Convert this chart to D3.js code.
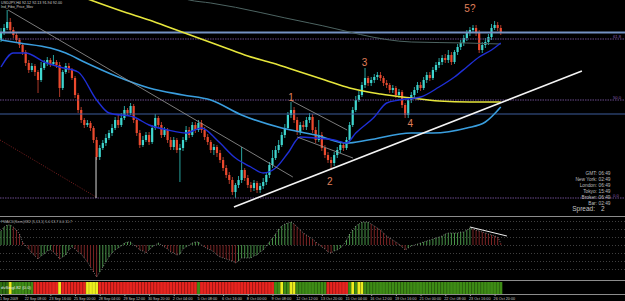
<!DOCTYPE html>
<html>
<head>
<meta charset="utf-8">
<script src="https://cdn.jsdelivr.net/npm/d3@7"></script>
<style>
  body { margin: 0; background: #000; }
  svg { display: block; font-family: "Liberation Sans", Arial, sans-serif; }
</style>
</head>
<body>
<svg id="chart" width="625" height="301"></svg>
<script>
// ---- data (USDJPY H4) ----
const firstOpen = 91.80;
const closes = [
  91.94, 92.04, 92.16, 92.00, 91.90, 91.80, 91.70, 91.56, 91.34, 91.20,
  91.28, 91.16, 91.00, 91.24, 91.34, 91.40, 91.32, 91.36, 91.30, 90.84,
  91.16, 91.28, 91.20, 91.04, 90.70, 90.40, 90.20, 90.10, 90.14, 90.04,
  89.80, 89.46, 89.64, 89.74, 89.84, 89.94, 90.04, 90.20, 90.10, 90.24,
  90.40, 90.34, 90.48, 90.20, 89.94, 89.70, 89.80, 89.90, 89.76, 90.04,
  90.24, 90.10, 89.90, 90.00, 89.80, 89.66, 89.80, 89.60, 89.64, 89.80,
  90.00, 89.90, 90.10, 90.00, 90.14, 90.00, 89.86, 89.76, 89.60, 89.66,
  89.54, 89.40, 89.24, 89.10, 89.00, 88.76, 88.90, 89.00, 89.20, 89.04,
  88.90, 88.84, 88.94, 88.80, 88.88, 88.96, 89.10, 89.30, 89.44, 89.60,
  89.70, 89.90, 90.04, 90.30, 90.40, 90.20, 89.96, 90.10, 90.06, 90.20,
  90.26, 90.00, 89.80, 89.90, 89.64, 89.50, 89.40, 89.34, 89.50, 89.60,
  89.70, 89.64, 89.80, 90.10, 90.40, 90.60, 90.70, 90.90, 91.04, 90.94,
  91.00, 91.06, 91.10, 91.04, 90.94, 90.90, 90.80, 90.84, 90.70, 90.76,
  90.50, 90.30, 90.60, 90.70, 90.80, 90.90, 90.84, 91.00, 91.10, 91.04,
  91.20, 91.30, 91.36, 91.44, 91.40, 91.50, 91.36, 91.56, 91.66, 91.74,
  91.84, 91.94, 92.00, 92.04, 91.94, 91.60, 91.70, 91.76, 91.86, 92.04,
  92.10, 92.04, 91.94
];
const highs = [
  92.04, 92.12, 92.40, 92.24, 92.06, 91.96, 91.84, 91.74, 91.60, 91.40,
  91.34, 91.32, 91.20, 91.36, 91.40, 91.46, 91.44, 91.50, 91.40, 91.36,
  91.20, 91.34, 91.34, 91.24, 91.08, 90.74, 90.46, 90.24, 90.20, 90.18,
  90.08, 89.86, 89.70, 89.80, 89.92, 90.00, 90.12, 90.26, 90.30, 90.34,
  90.48, 90.44, 90.54, 90.52, 90.24, 90.00, 89.88, 89.96, 89.96, 90.10,
  90.32, 90.28, 90.16, 90.06, 90.04, 89.86, 89.86, 89.84, 89.72, 89.86,
  90.08, 90.06, 90.16, 90.16, 90.20, 90.20, 90.06, 89.92, 89.80, 89.72,
  89.70, 89.60, 89.46, 89.30, 89.16, 89.06, 88.94, 89.08, 89.66, 89.24,
  89.10, 88.96, 89.00, 88.98, 88.94, 89.04, 89.16, 89.36, 89.60, 89.68,
  89.80, 89.96, 90.12, 90.36, 90.56, 90.46, 90.26, 90.16, 90.18, 90.26,
  90.34, 90.32, 90.06, 90.20, 89.96, 89.70, 89.56, 89.46, 89.56, 89.66,
  89.78, 89.76, 89.86, 90.16, 90.46, 90.68, 90.78, 90.96, 91.24, 91.08,
  91.06, 91.12, 91.16, 91.16, 91.08, 91.00, 90.94, 90.90, 90.88, 90.82,
  90.80, 90.54, 90.64, 90.76, 90.86, 90.96, 90.96, 91.06, 91.16, 91.16,
  91.26, 91.36, 91.44, 91.50, 91.52, 91.60, 91.56, 91.60, 91.72, 91.80,
  91.90, 92.00, 92.06, 92.10, 92.10, 92.00, 91.76, 91.84, 91.92, 92.12,
  92.18, 92.16, 92.10
];
const lows = [
  91.76, 91.90, 92.00, 91.94, 91.84, 91.74, 91.64, 91.50, 91.28, 91.14,
  91.16, 91.08, 90.74, 90.96, 91.20, 91.28, 91.26, 91.28, 91.24, 90.66,
  90.80, 91.12, 91.14, 91.00, 90.64, 90.34, 90.14, 90.04, 90.06, 89.98,
  89.74, 89.40, 89.40, 89.60, 89.68, 89.80, 89.88, 90.00, 90.04, 90.06,
  90.20, 90.28, 90.30, 90.14, 89.88, 89.64, 89.66, 89.76, 89.70, 89.72,
  90.00, 90.04, 89.84, 89.86, 89.74, 89.60, 89.60, 89.54, 88.96, 89.58,
  89.76, 89.84, 89.86, 89.94, 89.96, 89.94, 89.80, 89.70, 89.54, 89.50,
  89.46, 89.34, 89.18, 89.04, 88.92, 88.70, 88.64, 88.84, 88.94, 88.98,
  88.84, 88.76, 88.78, 88.74, 88.74, 88.82, 88.90, 89.04, 89.24, 89.40,
  89.54, 89.66, 89.84, 90.00, 90.24, 90.14, 89.90, 89.90, 90.00, 90.00,
  90.14, 89.94, 89.74, 89.76, 89.58, 89.44, 89.34, 89.20, 89.28, 89.44,
  89.54, 89.58, 89.60, 89.76, 90.06, 90.36, 90.56, 90.66, 90.84, 90.88,
  90.88, 90.94, 91.00, 90.98, 90.88, 90.84, 90.74, 90.74, 90.64, 90.64,
  90.44, 90.24, 90.24, 90.54, 90.64, 90.74, 90.78, 90.80, 90.94, 90.98,
  91.00, 91.16, 91.24, 91.30, 91.34, 91.34, 91.30, 91.32, 91.50, 91.60,
  91.68, 91.78, 91.88, 91.94, 91.88, 91.54, 91.54, 91.64, 91.70, 91.80,
  92.00, 91.98, 91.90
];

// moving averages, [bar, price]
const maYellow = [
  [20, 92.80], [29, 92.60], [40, 92.36], [48, 92.20], [56, 92.02], [64, 91.84],
  [72, 91.66], [80, 91.48], [88, 91.34], [97, 91.16], [105, 91.00], [113, 90.84],
  [123, 90.72], [133, 90.64], [142, 90.58], [152, 90.56], [162, 90.56]
];
const maLightBlue = [
  [0, 91.80], [6, 91.74], [16, 91.64], [21, 91.54], [27, 91.36], [38, 91.06],
  [48, 90.84], [59, 90.70], [68, 90.60], [78, 90.30], [91, 90.04], [102, 89.90],
  [112, 89.74], [119, 89.80], [133, 89.94], [140, 89.94], [151, 90.04],
  [157, 90.16], [162, 90.46]
];
const maDarkBlue = [
  [0, 91.26], [4, 91.54], [8, 91.54], [14, 91.36], [19, 91.26], [25, 91.16],
  [31, 90.60], [35, 90.34], [43, 90.26], [48, 90.10], [54, 90.00], [60, 89.94],
  [65, 90.04], [70, 89.80], [76, 89.44], [81, 89.26], [85, 89.14], [89, 89.24],
  [93, 89.54], [97, 89.86], [102, 89.84], [108, 89.80], [112, 89.74], [115, 89.94],
  [121, 90.26], [125, 90.54], [129, 90.60], [136, 90.66], [142, 90.86],
  [147, 91.06], [151, 91.26], [155, 91.46], [159, 91.60], [162, 91.74]
];
const maGray = [
  [50, 92.85], [61, 92.60], [68, 92.54], [100, 92.14], [133, 91.76],
  [151, 91.74], [162, 91.72]
];

// horizontal objects
const steelLevels = [91.95, 90.32];
const fiboLevels = [91.82, 90.60, 88.64];
const fiboTexts = ["61.8", "50.0", "0.0"];

// drawn trend lines, [bar, price] end points
const grayTrend = [[2.3, 92.40], [94.6, 89.06]];
const channelUpper = [[93.7, 90.60], [112.2, 90.00]];
const channelLower = [[96, 89.86], [114.1, 89.44]];
const supportLine = [[75.5, 88.46], [188.3, 91.18]];
const redDotted = [[-0.3, 89.80], [30.8, 88.66]];
const whiteVertical = [[30.8, 89.46], [30.8, 88.64]];

// Elliott wave labels
const waveTexts = ["1", "2", "3", "4", "5?"];
const waveBars = [94, 106.6, 117.8, 132.7, 152];
const wavePrices = [90.66, 88.98, 91.35, 90.14, 92.44];

// oscillator histogram
const macd = [
  14, 18, 20, 20, 18, 15, 11, 3, -1, -4,
  -8, -11, -14, -11, -9, -6, -5, -7, -10, -14,
  -12, -10, -5, -2, -4, -7, -9, -13, -17, -22,
  -27, -32, -27, -22, -17, -12, -8, -5, -3, -1,
  2, 3, 3, 0, -2, -5, -6, -8, -5, -2,
  0, 2, 0, -2, -4, -7, -8, -10, -9, -4,
  -2, 0, 2, 3, 3, 0, -2, -4, -5, -7,
  -10, -12, -13, -14, -15, -16, -18, -16, -13, -13,
  -13, -13, -11, -10, -7, -5, -1, 3, 7, 11,
  16, 19, 21, 22, 23, 21, 18, 15, 12, 10,
  8, 6, 3, 1, -2, -4, -7, -8, -6, -5,
  -3, 0, 5, 11, 15, 19, 21, 23, 23, 23,
  21, 19, 17, 15, 12, 9, 7, 5, 3, 1,
  -2, -5, -3, -1, 0, 1, 2, 3, 4, 5,
  6, 7, 8, 9, 11, 12, 12, 12, 12, 13,
  13, 15, 17, 16, 15, 14, 13, 12, 11, 10,
  9, 8, 2
];
const macdGrid = [24, 16, 8, 0, -8, -16, -24];
const macdTrend = [[152, 18], [164, 9]];

// trend state strip (G green, Y yellow, R red)
const trendStates = (
  "GGGYGGGGGG" + "GRRRRRRRRY" + "RRRRRRRRYY" + "YYRRRRRRRR" + "RRRRRRRRRR" +
  "RRRRRRRRRR" + "RRRRGRRRRR" + "RRRRRRRRRR" + "RRRRRRRRRG" + "GYGGYYGGGG" +
  "GGGGGGRRRR" + "RRRGYGYYGG" + "GGGGGGGGGG" + "GGGGGGGGGG" + "GGGGGGGGGG" +
  "GGGGGGGGGG" + "GGG"
).split("");

const timeTicks = [0, 8, 16, 24, 32, 40, 48, 56, 64, 72, 80, 88, 96, 104, 112, 120, 128, 136, 144, 152, 160];
const timeLabels = [
  "1 Sep 2009", "22 Sep 08:00", "23 Sep 16:00", "25 Sep 00:00", "28 Sep 04:00",
  "29 Sep 12:00", "30 Sep 20:00", "2 Oct 04:00", "5 Oct 08:00", "6 Oct 16:00",
  "8 Oct 00:00", "9 Oct 08:00", "12 Oct 12:00", "13 Oct 20:00", "15 Oct 04:00",
  "16 Oct 12:00", "19 Oct 16:00", "21 Oct 00:00", "22 Oct 08:00", "23 Oct 16:00",
  "26 Oct 20:00"
];

const infoNames = ["GMT:", "New York:", "London:", "Tokyo:", "Broker:", "Bar:"];
const infoTimes = ["06:49", "02:49", "06:49", "15:49", "06:49", "02:49"];
const spreadValue = "2";

// ---- drawing ----
const svg = d3.select("#chart");
const width = 625;

svg.append("rect").attr("width", width).attr("height", 301).attr("fill", "#000");

let xScale = d3.scaleLinear().domain([0, 200]).range([1, 618]);
let yScale = d3.scaleLinear().domain([88.34, 92.60]).range([213, 0]);
let yMacd = d3.scaleLinear().domain([-35, 28]).range([280, 217]);

svg.append("defs").append("clipPath").attr("id", "mainClip")
  .append("rect").attr("x", 0).attr("y", 0).attr("width", width).attr("height", 216);

let main = svg.append("g").attr("clip-path", "url(#mainClip)");

// candles
let opens = closes.map(function(c, i) { return i === 0 ? firstOpen : closes[i - 1]; });
let candles = main.append("g").selectAll("g").data(closes).enter().append("g");

candles.append("line")
  .attr("x1", function(d, i) { return xScale(i); })
  .attr("x2", function(d, i) { return xScale(i); })
  .attr("y1", function(d, i) { return yScale(highs[i]); })
  .attr("y2", function(d, i) { return yScale(lows[i]); })
  .attr("stroke", function(d, i) { return d >= opens[i] ? "#2bb5b0" : "#c0402c"; })
  .attr("stroke-width", 0.9);

candles.append("rect")
  .attr("x", function(d, i) { return xScale(i) - 1.1; })
  .attr("width", 2.2)
  .attr("y", function(d, i) { return yScale(Math.max(d, opens[i])); })
  .attr("height", function(d, i) { return Math.max(1, Math.abs(yScale(d) - yScale(opens[i]))); })
  .attr("fill", function(d, i) { return d >= opens[i] ? "#3fd6cf" : "#ec4a2e"; });

// horizontal levels
main.selectAll(".steel").data(steelLevels).enter().append("line")
  .attr("x1", 0).attr("x2", width)
  .attr("y1", function(d) { return yScale(d); })
  .attr("y2", function(d) { return yScale(d); })
  .attr("stroke", function(d, i) { return i === 0 ? "#7592c4" : "#3d5c9c"; })
  .attr("stroke-width", function(d, i) { return i === 0 ? 2 : 1; });

main.selectAll(".fibo").data(fiboLevels).enter().append("line")
  .attr("x1", 0).attr("x2", width)
  .attr("y1", function(d) { return yScale(d); })
  .attr("y2", function(d) { return yScale(d); })
  .attr("stroke", "#6a4a8c")
  .attr("stroke-width", 1)
  .attr("stroke-dasharray", "1.5,1");

main.selectAll(".fiboText").data(fiboLevels).enter().append("text")
  .attr("x", 613)
  .attr("y", function(d) { return yScale(d) - 1.5; })
  .attr("fill", "#8a5cb0")
  .attr("font-size", 4.2)
  .text(function(d, i) { return fiboTexts[i]; });

// moving averages
let maLine = d3.line()
  .x(function(d) { return xScale(d[0]); })
  .y(function(d) { return yScale(d[1]); })
  .curve(d3.curveMonotoneX);

main.append("path").attr("d", maLine(maGray)).attr("fill", "none")
  .attr("stroke", "#4d6462").attr("stroke-width", 1);
main.append("path").attr("d", maLine(maYellow)).attr("fill", "none")
  .attr("stroke", "#e6e63c").attr("stroke-width", 1.6);
main.append("path").attr("d", maLine(maLightBlue)).attr("fill", "none")
  .attr("stroke", "#3a9ede").attr("stroke-width", 1.6);
main.append("path").attr("d", maLine(maDarkBlue)).attr("fill", "none")
  .attr("stroke", "#1f2fd6").attr("stroke-width", 1.4);

// drawn objects
let straight = d3.line()
  .x(function(d) { return xScale(d[0]); })
  .y(function(d) { return yScale(d[1]); });

main.append("path").attr("d", straight(grayTrend)).attr("stroke", "#9a9a9a").attr("stroke-width", 0.8);
main.append("path").attr("d", straight(channelUpper)).attr("stroke", "#9a9a9a").attr("stroke-width", 0.8);
main.append("path").attr("d", straight(channelLower)).attr("stroke", "#9a9a9a").attr("stroke-width", 0.8);
main.append("path").attr("d", straight(redDotted)).attr("stroke", "#8a2424")
  .attr("stroke-width", 0.9).attr("stroke-dasharray", "1,1.5");
main.append("path").attr("d", straight(whiteVertical)).attr("stroke", "#d8d8d8").attr("stroke-width", 1);
main.append("path").attr("d", straight(supportLine)).attr("stroke", "#f4f4f4").attr("stroke-width", 1.5);

// wave labels
main.selectAll(".wave").data(waveTexts).enter().append("text")
  .attr("x", function(d, i) { return xScale(waveBars[i]); })
  .attr("y", function(d, i) { return yScale(wavePrices[i]); })
  .attr("text-anchor", "middle")
  .attr("dominant-baseline", "central")
  .attr("fill", "#e0805c")
  .attr("font-size", 10)
  .text(function(d) { return d; });

// header text
svg.append("text").attr("x", 1).attr("y", 4.2).attr("fill", "#d0d0d0").attr("font-size", 4)
  .attr("textLength", 61).attr("lengthAdjust", "spacingAndGlyphs")
  .text("USDJPY,H4  92.12 92.13 91.94 92.00");
svg.append("text").attr("x", 1).attr("y", 8).attr("fill", "#d0d0d0").attr("font-size", 4)
  .attr("textLength", 32).attr("lengthAdjust", "spacingAndGlyphs")
  .text("Ind_Fibo_Price_Mov");

// clock info
let info = svg.append("g");
info.selectAll(".iname").data(infoNames).enter().append("text")
  .attr("x", 597).attr("y", function(d, i) { return 174.5 + i * 6; })
  .attr("text-anchor", "end").attr("fill", "#bdbdbd").attr("font-size", 4.8)
  .text(function(d) { return d; });
info.selectAll(".ival").data(infoTimes).enter().append("text")
  .attr("x", 598.5).attr("y", function(d, i) { return 174.5 + i * 6; })
  .attr("fill", "#bdbdbd").attr("font-size", 4.8)
  .attr("textLength", 12).attr("lengthAdjust", "spacingAndGlyphs")
  .text(function(d) { return d; });
info.append("text").attr("x", 595).attr("y", 210.5).attr("text-anchor", "end")
  .attr("fill", "#c4c4c4").attr("font-size", 6.5).text("Spread:");
info.append("text").attr("x", 601).attr("y", 210.5)
  .attr("fill", "#c4c4c4").attr("font-size", 6.5).text(spreadValue);

// panel borders
[216.5, 280.5, 294.5].forEach(function(y) {
  svg.append("line").attr("x1", 0).attr("x2", width).attr("y1", y).attr("y2", y)
    .attr("stroke", "#8c8c8c").attr("stroke-width", 1);
});

// oscillator panel
let osc = svg.append("g");
osc.selectAll(".grid").data(macdGrid).enter().append("line")
  .attr("x1", 0).attr("x2", width)
  .attr("y1", function(d) { return yMacd(d) + 0.5; })
  .attr("y2", function(d) { return yMacd(d) + 0.5; })
  .attr("stroke", "#6a6a6a").attr("stroke-width", 0.6).attr("stroke-dasharray", "1,2");

osc.selectAll(".hist").data(macd).enter().append("line")
  .attr("x1", function(d, i) { return xScale(i); })
  .attr("x2", function(d, i) { return xScale(i); })
  .attr("y1", yMacd(0))
  .attr("y2", function(d) { return yMacd(d); })
  .attr("stroke", function(d, i) {
    let prev = i === 0 ? d - 1 : macd[i - 1];
    return d >= prev ? "#4a954a" : "#7a2424";
  })
  .attr("stroke-width", 1);

osc.append("path")
  .attr("d", d3.line().x(function(d, i) { return xScale(i); }).y(function(d) { return yMacd(d); })(macd))
  .attr("fill", "none").attr("stroke", "#a8a8a8").attr("stroke-width", 0.7)
  .attr("stroke-dasharray", "1,1.5");

osc.append("path")
  .attr("d", d3.line().x(function(d) { return xScale(d[0]); }).y(function(d) { return yMacd(d[1]); })(macdTrend))
  .attr("stroke", "#f0f0f0").attr("stroke-width", 1);

osc.append("text").attr("x", 1).attr("y", 222.5).attr("fill", "#b0b0b0").attr("font-size", 4)
  .attr("textLength", 71).attr("lengthAdjust", "spacingAndGlyphs")
  .text("FMACD(Semi)X82 (5,13,1) 5.0 13.7 0.0 11.7");

// trend state strip
let stateColor = { G: "#3e8c16", Y: "#eeee1e", R: "#e8241f" };
let strip = svg.append("g");
strip.selectAll("rect").data(trendStates).enter().append("rect")
  .attr("x", function(d, i) { return xScale(i) - 1.55; })
  .attr("width", 3.1)
  .attr("y", 282)
  .attr("height", 12)
  .attr("fill", function(d, i) { return i < 3 ? "#2f6e12" : stateColor[d]; });
strip.selectAll("line").data(trendStates).enter().append("line")
  .attr("x1", function(d, i) { return xScale(i) - 1.3; })
  .attr("x2", function(d, i) { return xScale(i) - 1.3; })
  .attr("y1", 282).attr("y2", 294)
  .attr("stroke", "#000").attr("stroke-opacity", 0.22).attr("stroke-width", 0.6);
strip.append("text").attr("x", 1).attr("y", 289).attr("fill", "#e8e8e8").attr("font-size", 4)
  .attr("textLength", 30).attr("lengthAdjust", "spacingAndGlyphs")
  .text("dvSingl.82 (0.0)");

// time axis
let xAxis = d3.axisBottom(xScale)
  .tickValues(timeTicks)
  .tickSize(1.5)
  .tickFormat(function(d, i) { return timeLabels[i]; });

let axisG = svg.append("g").attr("transform", "translate(0, 294.5)").call(xAxis);
axisG.select(".domain").remove();
axisG.selectAll("line").attr("stroke", "#9a9a9a");
axisG.selectAll("text")
  .attr("text-anchor", "start")
  .attr("x", -1.5)
  .attr("y", 2)
  .attr("dy", "0.71em")
  .attr("fill", "#c8c8c8")
  .attr("font-size", 4.3)
  .attr("font-family", "Liberation Sans, Arial, sans-serif")
  .attr("textLength", function(d, i) { return timeLabels[i].length * 1.8; })
  .attr("lengthAdjust", "spacingAndGlyphs");
</script>
</body>
</html>
